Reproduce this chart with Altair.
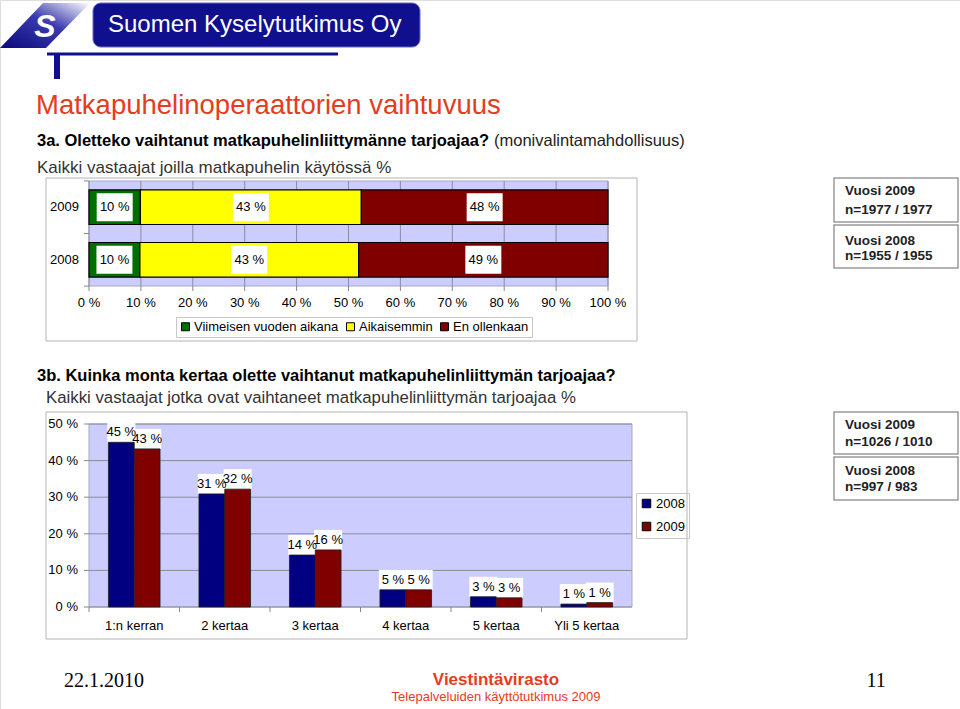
import altair as alt
import pandas as pd

FONT = "Liberation Sans"

# ---------------- data: 3a ----------------
years_a = ["2009", "2008"]
answers_a = ["Viimeisen vuoden aikana", "Aikaisemmin", "En ollenkaan"]
values_2009_a = [10, 43, 48]
values_2008_a = [10, 43, 49]
colors_a = ["#006F00", "#FFFF00", "#800000"]
ticks_a = [0, 10, 20, 30, 40, 50, 60, 70, 80, 90, 100]
notes_a = [["Vuosi 2009", "n=1977 / 1977"], ["Vuosi 2008", "n=1955 / 1955"]]

# ---------------- data: 3b ----------------
categories_b = ["1:n kerran", "2 kertaa", "3 kertaa", "4 kertaa", "5 kertaa", "Yli 5 kertaa"]
series_b = ["2008", "2009"]
values_2008_b = [45.0, 30.9, 14.2, 4.7, 2.8, 0.8]
values_2009_b = [43.2, 32.2, 15.6, 4.7, 2.5, 1.2]
labels_2008_b = [45, 31, 14, 5, 3, 1]
labels_2009_b = [43, 32, 16, 5, 3, 1]
colors_b = ["#000080", "#800000"]
ticks_b = [0, 10, 20, 30, 40, 50]
notes_b = [["Vuosi 2009", "n=1026 / 1010"], ["Vuosi 2008", "n=997 / 983"]]

# ---------------- tables ----------------
rows_a = []
for yr, vals in zip(years_a, [values_2009_a, values_2008_a]):
    for i, (ans, v) in enumerate(zip(answers_a, vals)):
        rows_a.append({"year": yr, "answer": ans, "value": v, "order": i})
df_a = pd.DataFrame(rows_a)
df_ticks_a = pd.DataFrame({"tick": ticks_a})
df_years_a = pd.DataFrame({"year": years_a})

rows_b = []
for s, vals, labs in zip(series_b, [values_2008_b, values_2009_b], [labels_2008_b, labels_2009_b]):
    for c, v, l in zip(categories_b, vals, labs):
        rows_b.append({"cat": c, "series": s, "value": v, "lab": l})
df_b = pd.DataFrame(rows_b)
df_ticks_b = pd.DataFrame({"tick": ticks_b})
df_cats_b = pd.DataFrame({"cat": categories_b})

one = pd.DataFrame({"k": [0]})


def txt(s, x, y, size, color="black", bold=False, font=FONT, align="left", italic=False):
    return alt.Chart(pd.DataFrame({"t": [s]})).mark_text(
        align=align, baseline="middle", fontSize=size, color=color,
        fontWeight="bold" if bold else "normal", font=font,
        fontStyle="italic" if italic else "normal",
    ).encode(x=alt.value(x), y=alt.value(y), text="t:N")


def box(x1, x2, y1, y2, fill="white", stroke="#B4B4B4", sw=1.0, radius=0):
    return alt.Chart(one).mark_rect(fill=fill, stroke=stroke, strokeWidth=sw, cornerRadius=radius).encode(
        x=alt.value(x1), x2=alt.value(x2), y=alt.value(y1), y2=alt.value(y2))


AXC = "#888888"

# ---------------- chart 3a ----------------
PAD_IN_A, PAD_OUT_A = 0.343, 0.17
xs_a = alt.Scale(domain=[0, 1], range=[89, 608], nice=False, zero=False)
ys_a = alt.Scale(domain=years_a, range=[181, 286], paddingInner=PAD_IN_A, paddingOuter=PAD_OUT_A)
X_A_TOP, X_A_BOT = 181, 286
STEP_A = (286 - 181) / (2 - PAD_IN_A + 2 * PAD_OUT_A)

base_a = alt.Chart(df_a).transform_stack(
    stack="value", groupby=["year"], as_=["v0", "v1"], offset="normalize",
    sort=[alt.SortField("order", order="ascending")],
).transform_calculate(mid="(datum.v0 + datum.v1) / 2", label="datum.value + ' %'")

ticks_a_base = alt.Chart(df_ticks_a).transform_calculate(
    t="datum.tick / 100", lab="datum.tick + ' %'")

grid_a = ticks_a_base.mark_rule(color="#8C8CA6", strokeWidth=1).encode(
    x=alt.X("t:Q", scale=xs_a, axis=None), y=alt.value(X_A_TOP), y2=alt.value(X_A_BOT))

xticks_a = ticks_a_base.mark_rule(color=AXC, strokeWidth=1).encode(
    x=alt.X("t:Q", scale=xs_a, axis=None), y=alt.value(X_A_BOT), y2=alt.value(X_A_BOT + 5))

xlabels_a = ticks_a_base.mark_text(fontSize=13, color="black", font=FONT, baseline="middle").encode(
    x=alt.X("t:Q", scale=xs_a, axis=None), y=alt.value(303), text="lab:N")

ylabels_a = alt.Chart(df_years_a).mark_text(
    fontSize=13, color="black", font=FONT, align="right", baseline="middle").encode(
    y=alt.Y("year:N", scale=ys_a, sort=years_a, axis=None), x=alt.value(79), text="year:N")

yticks_a_top = alt.Chart(df_years_a).mark_rule(
    color=AXC, strokeWidth=1, yOffset=-PAD_IN_A * STEP_A / 2).encode(
    y=alt.Y("year:N", scale=ys_a, sort=years_a, axis=None, bandPosition=0),
    x=alt.value(84), x2=alt.value(89))

yticks_a_bot = alt.Chart(df_years_a).mark_rule(
    color=AXC, strokeWidth=1, yOffset=PAD_IN_A * STEP_A / 2).encode(
    y=alt.Y("year:N", scale=ys_a, sort=years_a, axis=None, bandPosition=1),
    x=alt.value(84), x2=alt.value(89))

bars_a = base_a.mark_bar(stroke="black", strokeWidth=1.2).encode(
    x=alt.X("v0:Q", scale=xs_a, axis=None),
    x2="v1:Q",
    y=alt.Y("year:N", scale=ys_a, sort=years_a, axis=None),
    color=alt.Color("answer:N", scale=alt.Scale(domain=answers_a, range=colors_a), legend=alt.Legend(
        orient="none", legendX=176, legendY=317, direction="horizontal", title=None,
        symbolType="square", symbolSize=64, symbolStrokeColor="black", symbolStrokeWidth=1,
        labelFontSize=13, labelColor="black", labelFont=FONT, strokeColor="#C8C8C8",
        padding=3, columnPadding=5, labelOffset=2, labelLimit=300)),
    order=alt.Order("order:Q"),
)

boxes_a = base_a.mark_bar(color="white", xOffset=-18, x2Offset=18, height=28).encode(
    x=alt.X("mid:Q", scale=xs_a, axis=None), x2="mid:Q",
    y=alt.Y("year:N", scale=ys_a, sort=years_a, axis=None))

labels_a = base_a.mark_text(fontSize=13, color="black", font=FONT).encode(
    x=alt.X("mid:Q", scale=xs_a, axis=None),
    y=alt.Y("year:N", scale=ys_a, sort=years_a, axis=None), text="label:N")

chart_a = alt.layer(grid_a, bars_a, boxes_a, labels_a, xticks_a, xlabels_a, ylabels_a,
                    yticks_a_top, yticks_a_bot)

# ---------------- chart 3b ----------------
xs_b = alt.Scale(domain=categories_b, range=[89, 632], paddingInner=0.43, paddingOuter=0.215)
ys_b = alt.Scale(domain=[0, 50], range=[607, 424], nice=False, zero=True)
xo_b = alt.XOffset("series:N", sort=series_b, scale=alt.Scale(domain=series_b))
STEP_B = 543 / 6

grid_b = alt.Chart(df_ticks_b).mark_rule(color="#8C8C9C", strokeWidth=1).encode(
    y=alt.Y("tick:Q", scale=ys_b, axis=None), x=alt.value(89), x2=alt.value(632))

yticks_b = alt.Chart(df_ticks_b).mark_rule(color=AXC, strokeWidth=1).encode(
    y=alt.Y("tick:Q", scale=ys_b, axis=None), x=alt.value(84), x2=alt.value(89))

ylabels_b = alt.Chart(df_ticks_b).transform_calculate(lab="datum.tick + ' %'").mark_text(
    fontSize=13, color="black", font=FONT, align="right", baseline="middle").encode(
    y=alt.Y("tick:Q", scale=ys_b, axis=None), x=alt.value(78), text="lab:N")

xticks_b = alt.Chart(df_cats_b).mark_rule(color=AXC, strokeWidth=1, xOffset=-STEP_B / 2).encode(
    x=alt.X("cat:N", scale=xs_b, sort=categories_b, axis=None, bandPosition=0.5),
    y=alt.value(607), y2=alt.value(612))

xlabels_b = alt.Chart(df_cats_b).mark_text(
    fontSize=13, color="black", font=FONT, baseline="middle").encode(
    x=alt.X("cat:N", scale=xs_b, sort=categories_b, axis=None), y=alt.value(626), text="cat:N")

base_b = alt.Chart(df_b).transform_calculate(label="datum.lab + ' %'")

boxes_b = base_b.mark_bar(color="white", width=28, yOffset=-20).encode(
    x=alt.X("cat:N", scale=xs_b, sort=categories_b, axis=None), xOffset=xo_b,
    y=alt.Y("value:Q", scale=ys_b, axis=None), y2="value:Q")

bars_b = base_b.mark_bar(stroke="#202020", strokeWidth=0.8).encode(
    x=alt.X("cat:N", scale=xs_b, sort=categories_b, axis=None),
    xOffset=xo_b,
    y=alt.Y("value:Q", scale=ys_b, axis=None),
    color=alt.Color("series:N", scale=alt.Scale(domain=series_b, range=colors_b), legend=alt.Legend(
        orient="none", legendX=636, legendY=493, direction="vertical", title=None,
        symbolType="square", symbolSize=72, symbolStrokeColor="black", symbolStrokeWidth=1,
        labelFontSize=13, labelColor="black", labelFont=FONT, strokeColor="#C8C8C8",
        padding=4, rowPadding=9, labelOffset=3)),
)

labels_b = base_b.mark_text(fontSize=13, color="black", font=FONT, dy=-10).encode(
    x=alt.X("cat:N", scale=xs_b, sort=categories_b, axis=None), xOffset=xo_b,
    y=alt.Y("value:Q", scale=ys_b, axis=None), text="label:N")

chart_b = alt.layer(grid_b, boxes_b, bars_b, labels_b, yticks_b, ylabels_b, xticks_b, xlabels_b)

# ---------------- decorations ----------------
RED = "#E63C1E"
BLUE = "#10108E"

logo_shape = alt.Chart(one).mark_point(
    shape="M-0.087,-0.978L1.957,-0.978L0.043,0.978L-1.957,0.978Z", size=2116, filled=True,
    opacity=1, strokeWidth=0,
    fill=alt.LinearGradient(gradient="linear", x1=0, y1=1, x2=1, y2=0, stops=[
        alt.GradientStop(color="#0A0A7A", offset=0), alt.GradientStop(color="#3A3AB0", offset=0.55),
        alt.GradientStop(color="#FFFFFF", offset=1)]),
).encode(x=alt.value(45), y=alt.value(25.5))

layers = [
    logo_shape,
    txt("S", 45, 27, 32, color="white", bold=True, italic=True, align="center"),
    box(93, 420, 3, 47, fill=BLUE, stroke="#6A6AB8", sw=1, radius=8),
    txt("Suomen Kyselytutkimus Oy", 108, 25, 24, color="white"),
    alt.Chart(one).mark_rule(color=BLUE, strokeWidth=3).encode(
        x=alt.value(47), x2=alt.value(338), y=alt.value(54)),
    alt.Chart(one).mark_rule(color=BLUE, strokeWidth=6).encode(
        x=alt.value(57), y=alt.value(54), y2=alt.value(79)),
    txt("Matkapuhelinoperaattorien vaihtuvuus", 36, 106, 27.5, color=RED),
    txt("3a. Oletteko vaihtanut matkapuhelinliittymänne tarjoajaa?", 37, 141, 16.5, bold=True),
    txt("(monivalintamahdollisuus)", 494, 141, 16.5, color="#222222"),
    txt("Kaikki vastaajat joilla matkapuhelin käytössä %", 37, 168, 17, color="#333333"),
    # chart frames and plot backgrounds
    box(46, 637, 178, 341),
    box(89, 608, 181, 286, fill="#CCCCFF", stroke="#A8A8C0"),
    box(46, 687, 412, 639),
    box(89, 632, 424, 607, fill="#CCCCFF", stroke="#A8A8C0"),
    chart_a,
    chart_b,
    # info boxes
    box(834, 958, 178, 222, stroke="#9A9A9A", sw=1.5),
    box(834, 958, 225, 268, stroke="#9A9A9A", sw=1.5),
    txt(notes_a[0][0], 845, 191, 13.5, bold=True, color="#222222"),
    txt(notes_a[0][1], 845, 210, 13.5, bold=True, color="#222222"),
    txt(notes_a[1][0], 845, 241, 13.5, bold=True, color="#222222"),
    txt(notes_a[1][1], 845, 256, 13.5, bold=True, color="#222222"),
    box(834, 958, 412, 454, stroke="#9A9A9A", sw=1.5),
    box(834, 958, 457, 500, stroke="#9A9A9A", sw=1.5),
    txt(notes_b[0][0], 845, 425, 13.5, bold=True, color="#222222"),
    txt(notes_b[0][1], 845, 442, 13.5, bold=True, color="#222222"),
    txt(notes_b[1][0], 845, 471, 13.5, bold=True, color="#222222"),
    txt(notes_b[1][1], 845, 487, 13.5, bold=True, color="#222222"),
    txt("3b. Kuinka monta kertaa olette vaihtanut matkapuhelinliittymän tarjoajaa?", 37, 376, 16.5, bold=True),
    txt("Kaikki vastaajat jotka ovat vaihtaneet matkapuhelinliittymän tarjoajaa %", 46, 398, 16.8, color="#333333"),
    # footer
    txt("22.1.2010", 64, 681, 20, font="Liberation Serif"),
    txt("Viestintävirasto", 496, 680, 17, color=RED, bold=True, align="center"),
    txt("Telepalveluiden käyttötutkimus 2009", 496, 697, 13, color=RED, align="center"),
    txt("11", 876, 681, 20, font="Liberation Serif", align="center"),
]

chart = alt.layer(*layers).resolve_scale(
    x="independent", y="independent", color="independent", xOffset="independent"
).properties(
    width=960, height=709, autosize=alt.AutoSizeParams(type="none"), padding=0
).configure_view(stroke=None).configure(font=FONT, background="white")

chart.save("out.html", embed_options={"renderer": "svg", "actions": False})
